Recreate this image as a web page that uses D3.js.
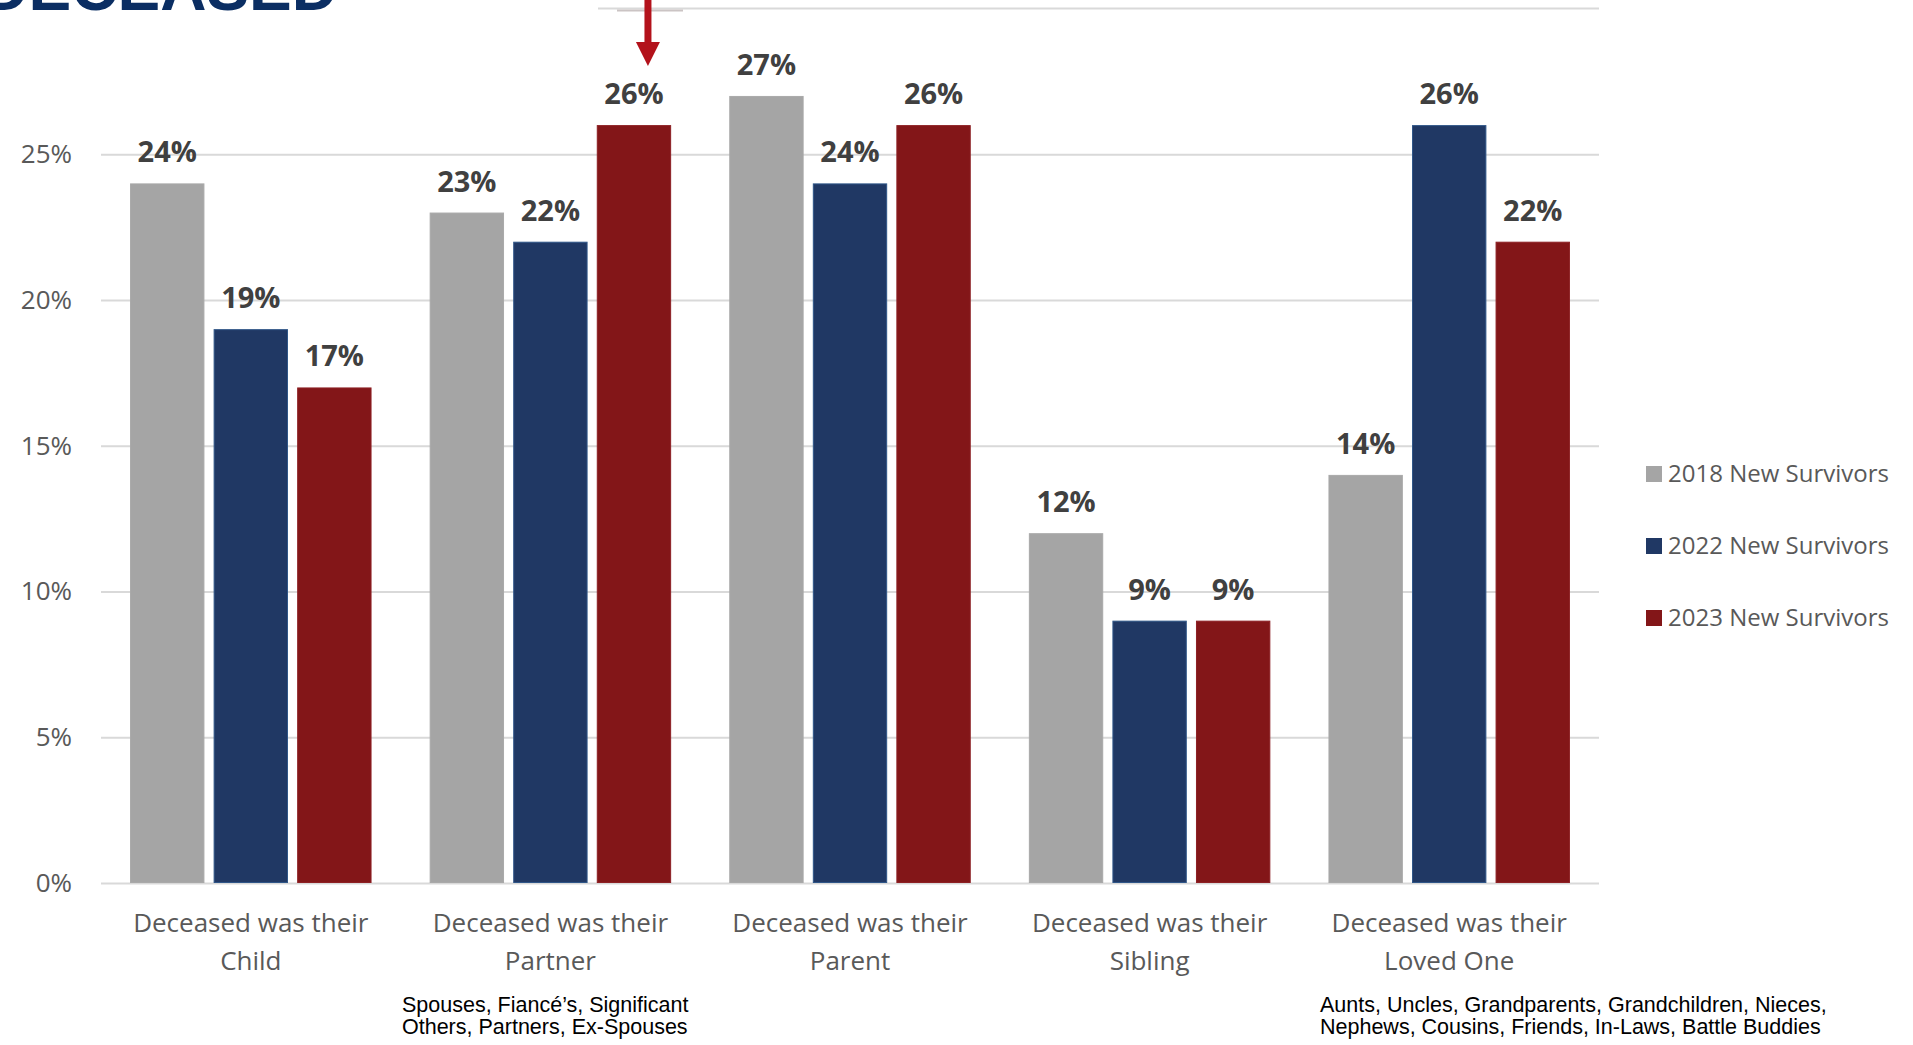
<!DOCTYPE html>
<meta charset="utf-8">
<style>
  body { margin: 0; background: #fff; overflow: hidden; }
</style>

<!-- Load d3.js -->
<script src="https://d3js.org/d3.v7.min.js"></script>

<div id="chart"></div>

<script>

    // data
    const categories = ["Child", "Partner", "Parent", "Sibling", "Loved One"];
    const seriesNames = ["2018 New Survivors", "2022 New Survivors", "2023 New Survivors"];
    const values2018 = [24, 23, 27, 12, 14];
    const values2022 = [19, 22, 24, 9, 26];
    const values2023 = [17, 26, 26, 9, 22];
    const yTicks = [0, 5, 10, 15, 20, 25];
    const partnerNote = ["Spouses, Fiancé’s, Significant", "Others, Partners, Ex-Spouses"];
    const lovedOneNote = ["Aunts, Uncles, Grandparents, Grandchildren, Nieces,", "Nephews, Cousins, Friends, In-Laws, Battle Buddies"];

    const colors = ["#a5a5a5", "#203864", "#831618"];
    const strokes = ["#a9a9a9", "#2f5688", "#8d2024"];

    const W = 1913, H = 1045;
    const plotLeft = 101, plotRight = 1599, plotTop = 8.5, plotBottom = 883;

    const svg = d3.select("#chart")
        .append("svg")
        .attr("width", W)
        .attr("height", H)
        .style("font-family", "'Open Sans', sans-serif");

    // scales
    const x0 = d3.scaleBand()
        .domain(categories)
        .range([plotLeft, plotRight])
        .paddingInner(0.194)
        .paddingOuter(0.097);

    const x1 = d3.scaleBand()
        .domain(seriesNames)
        .range([0, x0.bandwidth()])
        .paddingInner(0.11);

    const y = d3.scaleLinear()
        .domain([0, 30])
        .range([plotBottom, plotTop]);

    // title remnant at the top (cut off by the page edge, as in the slide)
    svg.append("text")
        .attr("x", 338)
        .attr("y", 10)
        .attr("text-anchor", "end")
        .style("font-family", "'Liberation Sans', Arial, sans-serif")
        .style("font-weight", 700)
        .style("font-size", "64px")
        .attr("fill", "#0b2e63")
        .text("DECEASED");

    // Y axis with gridlines
    const yAxis = svg.append("g")
        .attr("transform", `translate(${plotLeft},0)`)
        .call(d3.axisLeft(y)
            .tickValues(yTicks)
            .tickFormat(d => d + "%")
            .tickSize(-(plotRight - plotLeft))
            .tickPadding(29));
    yAxis.select(".domain").remove();
    yAxis.selectAll(".tick line")
        .attr("stroke", "#d9d9d9")
        .attr("stroke-width", 2);
    yAxis.selectAll(".tick text")
        .attr("fill", "#595959")
        .style("font-size", "26px")
        .style("font-family", "'Open Sans', sans-serif");

    // top gridline (30%), partly hidden behind the title area
    svg.append("line")
        .attr("x1", 598).attr("x2", plotRight)
        .attr("y1", y(30)).attr("y2", y(30))
        .attr("stroke", "#d9d9d9")
        .attr("stroke-width", 2);
    svg.append("line")
        .attr("x1", 617).attr("x2", 683)
        .attr("y1", y(30) + 2).attr("y2", y(30) + 2)
        .attr("stroke", "#cbc4c4")
        .attr("stroke-width", 2);

    // bars
    const rows = categories.map((c, i) => ({
        category: c,
        values: [values2018[i], values2022[i], values2023[i]]
    }));

    const groups = svg.append("g")
        .selectAll("g")
        .data(rows)
        .join("g")
        .attr("transform", d => `translate(${x0(d.category)},0)`);

    groups.selectAll("rect")
        .data(d => d.values.map((v, j) => ({ series: seriesNames[j], value: v, j: j })))
        .join("rect")
        .attr("x", d => x1(d.series) + 0.5)
        .attr("y", d => y(d.value) + 0.5)
        .attr("width", x1.bandwidth() - 1)
        .attr("height", d => y(0) - y(d.value) - 1)
        .attr("fill", d => colors[d.j])
        .attr("stroke", d => strokes[d.j])
        .attr("stroke-width", 1);

    // data labels
    groups.selectAll("text.lbl")
        .data(d => d.values.map((v, j) => ({ series: seriesNames[j], value: v })))
        .join("text")
        .attr("class", "lbl")
        .attr("x", d => x1(d.series) + x1.bandwidth() / 2)
        .attr("y", d => y(d.value) - 21)
        .attr("text-anchor", "middle")
        .attr("fill", "#404040")
        .style("font-weight", 700)
        .style("font-size", "29px")
        .text(d => d.value + "%");

    // x axis category labels
    const xAxis = svg.append("g")
        .attr("transform", `translate(0,${plotBottom})`)
        .call(d3.axisBottom(x0).tickSize(0).tickFormat(""));
    xAxis.select(".domain").remove();
    xAxis.selectAll(".tick").each(function (d) {
        const t = d3.select(this).append("text")
            .attr("text-anchor", "middle")
            .attr("fill", "#595959")
            .style("font-size", "26px")
            .style("font-family", "'Open Sans', sans-serif");
        t.append("tspan").attr("x", 0).attr("y", 49).text("Deceased was their");
        t.append("tspan").attr("x", 0).attr("y", 87).text(d);
    });

    // footnotes under two of the categories
    function note(lines, x) {
        const t = svg.append("text")
            .attr("fill", "#000")
            .style("font-family", "'Liberation Sans', Arial, sans-serif")
            .style("font-size", "21.5px");
        lines.forEach((s, i) => {
            t.append("tspan").attr("x", x).attr("y", 1012 + i * 22).text(s);
        });
    }
    note(partnerNote, 402);
    note(lovedOneNote, 1320);

    // red arrow pointing at the 2023 partner bar
    const ax = x0("Partner") + x1(seriesNames[2]) + x1.bandwidth() / 2 + 14;
    svg.append("line")
        .attr("x1", ax).attr("x2", ax)
        .attr("y1", 0).attr("y2", 44)
        .attr("stroke", "#b3121b")
        .attr("stroke-width", 7);
    svg.append("path")
        .attr("d", `M${ax - 12},42 L${ax + 12},42 L${ax},66 Z`)
        .attr("fill", "#b3121b");

    // legend
    const legend = svg.append("g")
        .selectAll("g")
        .data(seriesNames)
        .join("g")
        .attr("transform", (d, i) => `translate(1646,${474 + i * 72})`);
    legend.append("rect")
        .attr("x", 0).attr("y", -8)
        .attr("width", 16).attr("height", 16)
        .attr("fill", (d, i) => colors[i]);
    legend.append("text")
        .attr("x", 22)
        .attr("y", 0)
        .attr("dy", "0.35em")
        .attr("fill", "#595959")
        .style("font-size", "24px")
        .text(d => d);

</script>
